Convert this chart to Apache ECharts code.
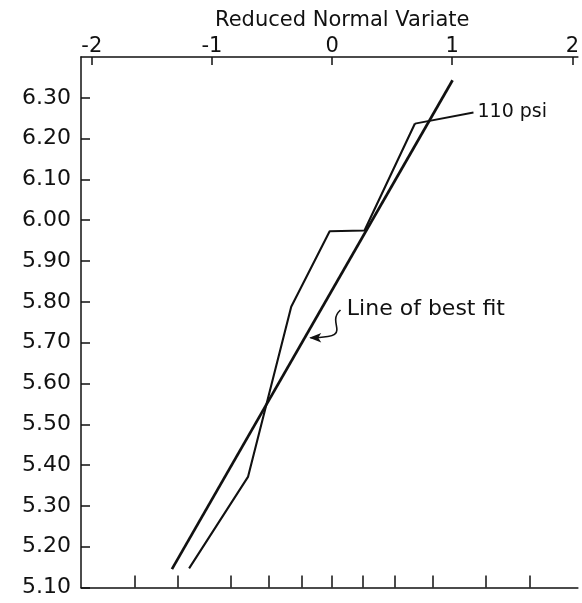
<!DOCTYPE html>
<html>
<head>
<meta charset="utf-8">
<script src="https://cdn.jsdelivr.net/npm/echarts@6/dist/echarts.min.js"></script>
<style>
  html, body { margin: 0; padding: 0; background: #fff; }
  #chart { width: 582px; height: 603px; }
</style>
</head>
<body>
<div id="chart"></div>
<script>
// Reduced normal variate (z) vs. value, 110 psi sample on normal probability scale
const topTicks = [-2, -1, 0, 1, 2];
// probability-paper ticks (5%, 10%, 20% ... 90%, 95%) expressed as z
const probTicks = [-1.645, -1.282, -0.842, -0.524, -0.253, 0, 0.253, 0.524, 0.842, 1.282, 1.645];
const yTicks = [5.10, 5.20, 5.30, 5.40, 5.50, 5.60, 5.70, 5.80, 5.90, 6.00, 6.10, 6.20, 6.30];

// observed curve
const obsZ = [-1.19, -0.70, -0.34, -0.02, 0.27, 0.69];
const obsV = [5.147, 5.371, 5.788, 5.973, 5.975, 6.237];

// line of best fit end points
const fitZ = [-1.333, 1.003];
const fitV = [5.145, 6.343];

// leader to the "110 psi" note
const leaderZ = [0.69, 1.177];
const leaderV = [6.237, 6.264];

// "Line of best fit" note and its curly pointer
const noteZ = 0.123, noteV = 5.782;
const pointerZ = [0.070, 0.030, 0.040, -0.035, -0.180];
const pointerV = [5.780, 5.757, 5.731, 5.715, 5.712];
const arrowHead = [-0.190, 5.712];

const FONT = 'DejaVu Sans';
const INK = '#111';

const zip = (a, b) => a.map((v, i) => [v, b[i]]);

const chart = echarts.init(document.getElementById('chart'), null, { renderer: 'canvas' });

const xBase = {
  type: 'value', min: -2.09, max: 2.046,
  splitLine: { show: false },
  axisLine: { show: true, onZero: false, lineStyle: { color: INK, width: 1.5 } }
};

chart.setOption({
  animation: false,
  backgroundColor: '#fff',
  title: {
    text: 'Reduced Normal Variate',
    left: 210, top: 5,
    textStyle: { fontFamily: FONT, fontSize: 21, fontWeight: 'normal', color: INK }
  },
  grid: { left: 81, right: 0, top: 57, bottom: 15.5, containLabel: false },
  xAxis: [
    Object.assign({}, xBase, {
      position: 'top',
      axisTick: { show: true, inside: true, length: 8, customValues: topTicks, lineStyle: { color: INK, width: 1.5 } },
      axisLabel: { show: true, customValues: topTicks, margin: 0, fontFamily: FONT, fontSize: 21, color: INK,
        formatter: v => String(v) }
    }),
    Object.assign({}, xBase, {
      position: 'bottom',
      axisTick: { show: true, inside: true, length: 12, customValues: probTicks, lineStyle: { color: INK, width: 1.5 } },
      axisLabel: { show: false }
    })
  ],
  yAxis: {
    type: 'value', min: 5.10, max: 6.40,
    splitLine: { show: false },
    axisLine: { show: true, onZero: false, lineStyle: { color: INK, width: 1.5 } },
    axisTick: { show: true, inside: true, length: 9, customValues: yTicks, lineStyle: { color: INK, width: 1.5 } },
    axisLabel: { show: true, customValues: yTicks, margin: 10, fontFamily: FONT, fontSize: 22, color: INK,
      formatter: v => v.toFixed(2) }
  },
  series: [
    {
      name: 'Line of best fit', type: 'line', xAxisIndex: 0,
      data: zip(fitZ, fitV), symbol: 'none',
      lineStyle: { color: INK, width: 2.7 }
    },
    {
      name: '110 psi', type: 'line', xAxisIndex: 0,
      data: zip(obsZ, obsV), symbol: 'none',
      lineStyle: { color: INK, width: 2.1 }
    },
    {
      name: 'leader', type: 'line', xAxisIndex: 0,
      data: zip(leaderZ, leaderV), symbol: 'none',
      lineStyle: { color: INK, width: 1.8 },
      endLabel: { show: true, distance: 4, formatter: '110 psi',
        fontFamily: FONT, fontSize: 19, color: INK }
    },
    {
      name: 'pointer', type: 'line', xAxisIndex: 0,
      data: zip(pointerZ, pointerV), symbol: 'none', smooth: 0.5,
      lineStyle: { color: INK, width: 1.6 }
    },
    {
      name: 'pointer head', type: 'scatter', xAxisIndex: 0,
      data: [arrowHead], symbol: 'arrow', symbolRotate: 90, symbolSize: [7, 12],
      itemStyle: { color: INK, opacity: 1 }
    },
    {
      name: 'note', type: 'line', xAxisIndex: 0,
      data: [[noteZ, noteV]], symbol: 'none', showSymbol: false,
      lineStyle: { width: 0 },
      endLabel: { show: true, distance: 0, formatter: 'Line of best fit',
        fontFamily: FONT, fontSize: 22, color: INK }
    }
  ]
});
</script>
</body>
</html>
